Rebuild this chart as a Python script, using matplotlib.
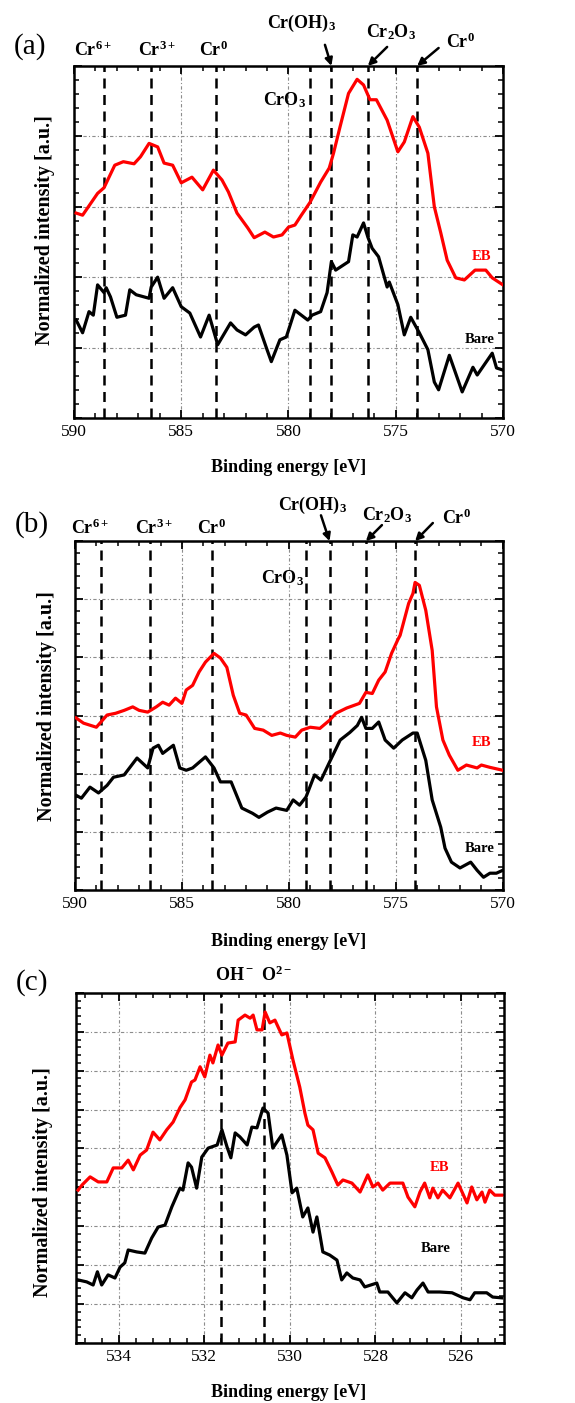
import matplotlib.pyplot as plt
from matplotlib.ticker import MultipleLocator, AutoMinorLocator, NullFormatter

plt.rcParams['font.family'] = ['Liberation Serif', 'DejaVu Serif']
# labels are bold Times-like text, so math parts use the bold serif too
plt.rcParams['mathtext.fontset'] = 'custom'
plt.rcParams['mathtext.rm'] = 'Liberation Serif:bold'
plt.rcParams['mathtext.default'] = 'rm'

# ---- (a) Cr 2p ----
a_eb_x = [589.9, 589.6, 588.9, 588.6, 588.1, 587.7, 587.2, 586.9, 586.5, 586.1, 585.8, 585.4,
          585.0, 584.5, 584.0, 583.5, 583.1, 582.8, 582.4, 581.9, 581.6, 581.1, 580.7, 580.3,
          580.0, 579.7, 579.4, 579.0, 578.5, 578.1, 577.9, 577.6, 577.2, 576.8, 576.5, 576.2,
          575.9, 575.4, 574.9, 574.6, 574.2, 573.9, 573.5, 573.2, 572.9, 572.6, 572.2, 571.8,
          571.3, 570.8, 570.5, 570.0]
a_eb_y = [2.91, 2.88, 3.19, 3.27, 3.59, 3.64, 3.61, 3.71, 3.90, 3.85, 3.62, 3.59,
          3.34, 3.42, 3.24, 3.52, 3.38, 3.21, 2.91, 2.70, 2.56, 2.64, 2.57, 2.60,
          2.71, 2.74, 2.88, 3.06, 3.35, 3.55, 3.76, 4.13, 4.61, 4.81, 4.73, 4.52,
          4.52, 4.23, 3.78, 3.92, 4.28, 4.13, 3.76, 3.00, 2.63, 2.24, 1.99, 1.96,
          2.10, 2.10, 1.99, 1.89]
a_bare_x = [589.9, 589.6, 589.3, 589.1, 588.9, 588.6, 588.5, 588.3, 588.0, 587.6, 587.4, 587.1,
            586.5, 586.4, 586.1, 585.8, 585.4, 585.0, 584.6, 584.1, 583.7, 583.3, 582.7, 582.4,
            582.0, 581.6, 581.4, 581.0, 580.8, 580.4, 580.1, 579.7, 579.1, 578.9, 578.5, 578.2,
            578.0, 577.8, 577.2, 577.0, 576.8, 576.5, 576.3, 576.1, 575.8, 575.4, 575.3, 574.9,
            574.6, 574.3, 573.9, 573.5, 573.2, 573.0, 572.5, 571.9, 571.4, 571.2, 570.5, 570.3,
            570.0]
a_bare_y = [1.39, 1.21, 1.51, 1.46, 1.89, 1.78, 1.85, 1.72, 1.43, 1.46, 1.82, 1.75,
            1.70, 1.86, 2.00, 1.70, 1.85, 1.58, 1.49, 1.15, 1.46, 1.04, 1.35, 1.25,
            1.18, 1.29, 1.32, 0.97, 0.80, 1.11, 1.15, 1.53, 1.39, 1.46, 1.51, 1.78,
            2.22, 2.10, 2.22, 2.60, 2.57, 2.77, 2.57, 2.41, 2.29, 1.86, 1.93, 1.61,
            1.18, 1.43, 1.21, 0.97, 0.51, 0.40, 0.89, 0.37, 0.72, 0.61, 0.92, 0.71,
            0.68]
a_lines = [588.6, 586.4, 583.4, 579.0, 578.0, 576.3, 574.0]

# ---- (b) Cr 2p ----
b_eb_x = [589.95, 589.6, 589.0, 588.5, 588.1, 587.7, 587.3, 587.0, 586.6, 586.2, 585.9, 585.6,
          585.3, 585.0, 584.8, 584.5, 584.2, 583.9, 583.5, 583.2, 582.9, 582.6, 582.3, 582.0,
          581.6, 581.2, 580.8, 580.4, 580.1, 579.7, 579.4, 579.0, 578.55, 578.1, 577.8, 577.3,
          576.7, 576.4, 576.1, 575.8, 575.5, 575.2, 574.9, 574.8, 574.4, 574.2, 574.1, 573.9,
          573.6, 573.3, 573.1, 572.8, 572.5, 572.1, 571.7, 571.2, 571.0, 570.6, 570.0]
b_eb_y = [2.96, 2.87, 2.80, 3.01, 3.04, 3.09, 3.15, 3.09, 3.06, 3.15, 3.23, 3.18,
          3.30, 3.21, 3.44, 3.52, 3.75, 3.92, 4.07, 3.99, 3.83, 3.35, 3.04, 3.01,
          2.78, 2.75, 2.66, 2.70, 2.66, 2.63, 2.75, 2.80, 2.78, 2.92, 3.04, 3.13,
          3.21, 3.40, 3.38, 3.61, 3.75, 4.07, 4.31, 4.38, 4.93, 5.10, 5.29, 5.24,
          4.81, 4.12, 3.15, 2.58, 2.32, 2.06, 2.15, 2.10, 2.15, 2.11, 2.06]
b_bare_x = [589.95, 589.7, 589.3, 588.9, 588.5, 588.2, 587.7, 587.1, 586.6, 586.35, 586.1, 585.9,
            585.4, 585.1, 584.8, 584.5, 583.9, 583.5, 583.2, 582.7, 582.2, 581.7, 581.4, 581.0,
            580.6, 580.1, 579.8, 579.5, 579.2, 578.8, 578.5, 578.1, 577.6, 577.15, 576.8, 576.6,
            576.4, 576.1, 575.8, 575.5, 575.1, 574.7, 574.2, 574.0, 573.6, 573.3, 572.9, 572.7,
            572.4, 572.0, 571.5, 571.2, 570.9, 570.6, 570.3, 570.0]
b_bare_y = [1.63, 1.58, 1.77, 1.67, 1.80, 1.94, 1.98, 2.27, 2.10, 2.44, 2.49, 2.35,
            2.49, 2.10, 2.06, 2.10, 2.29, 2.10, 1.86, 1.86, 1.41, 1.32, 1.25, 1.34,
            1.41, 1.37, 1.55, 1.46, 1.60, 1.98, 1.89, 2.20, 2.58, 2.71, 2.83, 2.97,
            2.78, 2.78, 2.89, 2.58, 2.44, 2.58, 2.70, 2.70, 2.23, 1.55, 1.08, 0.72,
            0.48, 0.38, 0.48, 0.34, 0.22, 0.29, 0.29, 0.34]
b_lines = [588.8, 586.5, 583.6, 579.2, 578.1, 576.4, 574.1]

cr_labels = ['Cr$^{6+}$', 'Cr$^{3+}$', 'Cr$^{0}$']

# ---- (c) O 1s ----
c_eb_x = [534.95, 534.86, 534.67, 534.48, 534.28, 534.13, 533.93, 533.78, 533.66, 533.5, 533.35, 533.2,
          533.04, 532.88, 532.73, 532.57, 532.45, 532.3, 532.22, 532.1, 531.99, 531.87, 531.8, 531.68,
          531.59, 531.45, 531.28, 531.21, 531.05, 530.93, 530.86, 530.77, 530.65, 530.58, 530.47, 530.35,
          530.19, 530.07, 529.93, 529.77, 529.65, 529.58, 529.46, 529.34, 529.18, 529.02, 528.88, 528.76,
          528.55, 528.36, 528.18, 528.06, 527.94, 527.83, 527.66, 527.36, 527.24, 527.08, 526.96, 526.85,
          526.73, 526.66, 526.54, 526.43, 526.26, 526.07, 525.86, 525.75, 525.63, 525.51, 525.44, 525.33,
          525.21, 525.05]
c_eb_y = [3.93, 4.06, 4.27, 4.14, 4.14, 4.50, 4.50, 4.70, 4.45, 4.83, 4.96, 5.42,
          5.22, 5.48, 5.68, 6.05, 6.25, 6.71, 6.76, 7.10, 6.84, 7.40, 7.20, 7.66,
          7.40, 7.71, 7.74, 8.30, 8.43, 8.35, 8.43, 8.05, 8.05, 8.51, 8.23, 8.30,
          7.92, 7.97, 7.28, 6.58, 5.91, 5.60, 5.48, 4.88, 4.76, 4.40, 4.06, 4.19,
          4.11, 3.88, 4.32, 4.01, 4.11, 3.93, 4.11, 4.11, 3.75, 3.50, 3.88, 4.11,
          3.73, 3.98, 3.73, 3.93, 3.73, 4.11, 3.60, 4.01, 3.68, 3.88, 3.62, 3.93,
          3.80, 3.80]
c_bare_x = [534.95, 534.75, 534.6, 534.5, 534.4, 534.25, 534.09, 533.97, 533.86, 533.78, 533.58, 533.39,
            533.23, 533.08, 532.92, 532.76, 532.57, 532.5, 532.38, 532.3, 532.18, 532.06, 531.91, 531.7,
            531.59, 531.47, 531.38, 531.28, 531.17, 531.0, 530.89, 530.77, 530.63, 530.51, 530.4, 530.19,
            530.07, 529.95, 529.84, 529.7, 529.58, 529.46, 529.37, 529.23, 529.07, 528.9, 528.79, 528.67,
            528.53, 528.36, 528.25, 527.97, 527.9, 527.71, 527.5, 527.31, 527.15, 527.03, 526.89, 526.77,
            526.5, 526.21, 525.95, 525.79, 525.68, 525.4, 525.26, 525.05]
c_bare_y = [1.62, 1.57, 1.49, 1.83, 1.49, 1.75, 1.67, 1.95, 2.06, 2.39, 2.34, 2.31,
            2.70, 2.98, 3.03, 3.50, 3.98, 3.93, 4.63, 4.52, 3.98, 4.78, 5.01, 5.09,
            5.48, 5.04, 4.76, 5.40, 5.30, 5.09, 5.55, 5.53, 6.04, 5.91, 5.01, 5.35,
            4.83, 3.86, 3.98, 3.24, 3.47, 2.85, 3.24, 2.34, 2.26, 2.13, 1.62, 1.80,
            1.67, 1.62, 1.44, 1.54, 1.31, 1.31, 1.03, 1.29, 1.16, 1.36, 1.54, 1.31,
            1.31, 1.29, 1.16, 1.11, 1.29, 1.29, 1.18, 1.16]
c_lines = [531.6, 530.6]

fig = plt.figure(figsize=(5.75, 14.03), dpi=100)
ax_a = fig.add_axes([0.1287, 0.7021, 0.746, 0.2509])
ax_b = fig.add_axes([0.1304, 0.3656, 0.744, 0.2487])
ax_c = fig.add_axes([0.1322, 0.0428, 0.744, 0.2495])

grid_style = dict(color='#8c8c8c', linestyle=(0, (3, 2, 1, 2)), linewidth=0.8)
dash = (0, (4, 2.6))
bold = dict(fontweight='bold', fontsize=13)


def style_axes(ax, xlim, ylim, xmajor, xminor_n):
    ax.set_xlim(*xlim)
    ax.set_ylim(*ylim)
    ax.xaxis.set_major_locator(MultipleLocator(xmajor))
    ax.xaxis.set_minor_locator(AutoMinorLocator(xminor_n))
    ax.yaxis.set_major_locator(MultipleLocator(1))
    ax.yaxis.set_minor_locator(AutoMinorLocator(5))
    ax.yaxis.set_major_formatter(NullFormatter())
    ax.tick_params(which='both', direction='in', top=True, right=True)
    ax.tick_params(which='major', length=6, width=1.3, labelsize=12.5, pad=4)
    ax.tick_params(which='minor', length=3.5, width=1.1)
    for s in ax.spines.values():
        s.set_linewidth(1.8)
    ax.grid(which='major', **grid_style)
    ax.set_axisbelow(True)


def cr_annotations(ax, lines, lab_pos, oh_pos, o3_pos, cr0_pos, cro3_pos, tails):
    for xv in lines:
        ax.axvline(xv, color='black', linestyle=dash, linewidth=1.8, zorder=3)
    for lab, (xx, yy) in zip(cr_labels, lab_pos):
        ax.annotate(lab, (xx, yy), xycoords=('data', 'axes fraction'),
                    ha='center', va='center', annotation_clip=False, **bold)
    ax.annotate('Cr(OH)$_3$', oh_pos, xycoords=('data', 'axes fraction'),
                ha='center', va='center', annotation_clip=False, **bold)
    ax.annotate('Cr$_2$O$_3$', o3_pos, xycoords=('data', 'axes fraction'),
                ha='center', va='center', annotation_clip=False, **bold)
    ax.annotate('Cr$^0$', cr0_pos, xycoords=('data', 'axes fraction'),
                ha='center', va='center', annotation_clip=False, **bold)
    ax.annotate('CrO$_3$', cro3_pos, xycoords=('data', 'axes fraction'),
                ha='center', va='center', annotation_clip=False, **bold)
    for (tx, ty), hx in zip(tails, [lines[4], lines[5], lines[6]]):
        ax.annotate('', xy=(hx, 1.0), xytext=(tx, ty),
                    xycoords=('data', 'axes fraction'), textcoords=('data', 'axes fraction'),
                    annotation_clip=False,
                    arrowprops=dict(arrowstyle='-|>', color='black', lw=1.8,
                                    mutation_scale=11, shrinkA=0, shrinkB=0))


# (a)
style_axes(ax_a, (590, 570), (0, 5), 5, 5)
ax_a.plot(a_eb_x, a_eb_y, color='#ff0000', linewidth=2.3, zorder=4)
ax_a.plot(a_bare_x, a_bare_y, color='black', linewidth=2.3, zorder=4)
cr_annotations(ax_a, a_lines,
               [(589.1, 1.045), (586.1, 1.045), (583.5, 1.045)],
               (579.4, 1.122), (575.2, 1.097), (572.0, 1.068), (580.2, 0.903),
               [(578.3, 1.060), (575.4, 1.054), (573.0, 1.051)])
ax_a.text(571.0, 2.29, 'EB', color='#ff0000', fontweight='bold', fontsize=10.5, ha='center', va='center')
ax_a.text(571.1, 1.11, 'Bare', color='black', fontweight='bold', fontsize=10.5, ha='center', va='center')

# (b)
style_axes(ax_b, (590, 570), (0, 6), 5, 5)
ax_b.plot(b_eb_x, b_eb_y, color='#ff0000', linewidth=2.3, zorder=4)
ax_b.plot(b_bare_x, b_bare_y, color='black', linewidth=2.3, zorder=4)
cr_annotations(ax_b, b_lines,
               [(589.3, 1.037), (586.3, 1.037), (583.6, 1.037)],
               (578.9, 1.103), (575.4, 1.074), (572.15, 1.066), (580.3, 0.894),
               [(578.5, 1.074), (575.65, 1.046), (573.27, 1.052)])
ax_b.text(571.0, 2.53, 'EB', color='#ff0000', fontweight='bold', fontsize=10.5, ha='center', va='center')
ax_b.text(571.1, 0.72, 'Bare', color='black', fontweight='bold', fontsize=10.5, ha='center', va='center')

# (c)
style_axes(ax_c, (535, 525), (0, 9), 2, 5)
ax_c.plot(c_eb_x, c_eb_y, color='#ff0000', linewidth=2.3, zorder=4)
ax_c.plot(c_bare_x, c_bare_y, color='black', linewidth=2.3, zorder=4)
for xv in c_lines:
    ax_c.axvline(xv, color='black', linestyle=dash, linewidth=1.8, zorder=3)
ax_c.annotate('OH$^-$', (531.3, 1.051), xycoords=('data', 'axes fraction'),
              ha='center', va='center', annotation_clip=False, **bold)
ax_c.annotate('O$^{2-}$', (530.3, 1.051), xycoords=('data', 'axes fraction'),
              ha='center', va='center', annotation_clip=False, **bold)
ax_c.text(526.5, 4.52, 'EB', color='#ff0000', fontweight='bold', fontsize=10.5, ha='center', va='center')
ax_c.text(526.6, 2.44, 'Bare', color='black', fontweight='bold', fontsize=10.5, ha='center', va='center')

# panel letters and axis titles
for lx, ly, lt in [(0.052, 0.9665, '(a)'), (0.0557, 0.626, '(b)'), (0.0557, 0.2994, '(c)')]:
    fig.text(lx, ly, lt, fontsize=21, ha='center', va='center')
for yy in [0.667, 0.3286, 0.0078]:
    fig.text(0.5017, yy, 'Binding energy [eV]', fontsize=13, fontweight='bold', ha='center', va='center')
for xx, yy in [(0.078, 0.836), (0.0817, 0.4968), (0.0748, 0.1575)]:
    fig.text(xx, yy, 'Normalized intensity [a.u.]', fontsize=14.5, fontweight='bold',
             rotation=90, ha='center', va='center')

fig.savefig('out.png', dpi=100)
